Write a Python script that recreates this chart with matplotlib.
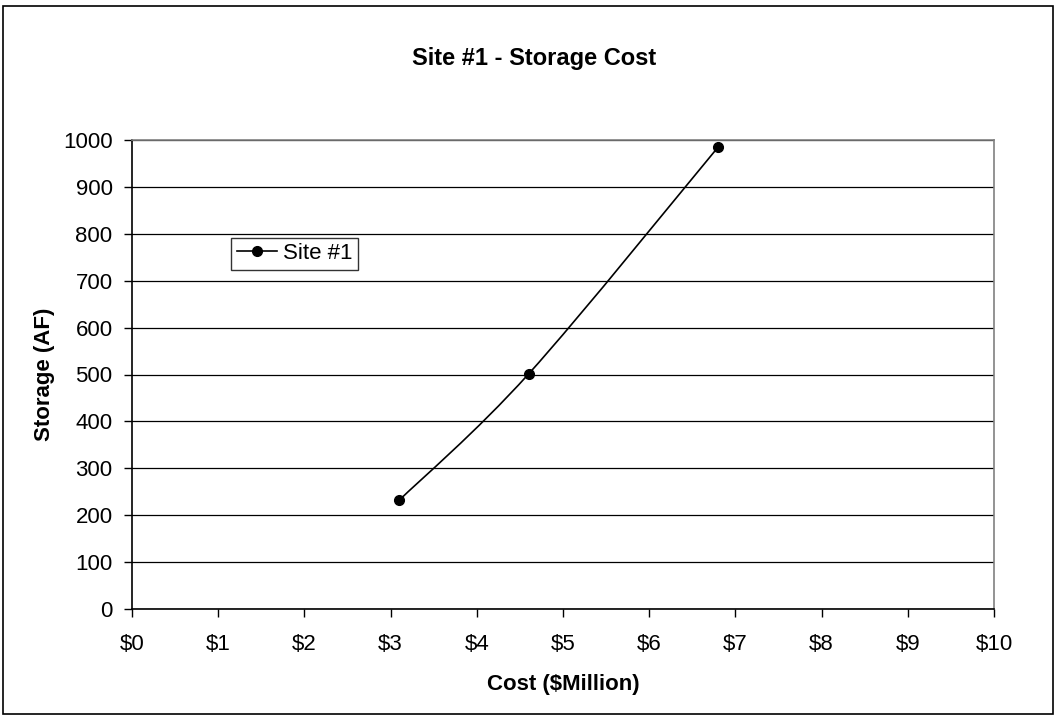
import matplotlib
matplotlib.use("Agg")
import matplotlib.pyplot as plt
from matplotlib.path import Path
from matplotlib.patches import PathPatch, Rectangle
from matplotlib.lines import Line2D
import numpy as np

plt.rcParams['font.family'] = ['Liberation Sans', 'DejaVu Sans']

# Site #1 storage vs. cost
cost_musd = [3.1, 4.6, 6.8]
storage_af = [232, 501, 985]
series_name = "Site #1"

x_ticks = list(range(0, 11))
x_tick_labels = [f"${v}" for v in x_ticks]
y_ticks = list(range(0, 1001, 100))

fig = plt.figure(figsize=(10.57, 7.19), dpi=100)
fig.patch.set_facecolor('white')
fig.patches.append(Rectangle((0.003, 0.007), 0.993, 0.985, transform=fig.transFigure,
                             fill=False, edgecolor='black', linewidth=1.2))

ax = fig.add_axes([132 / 1057, 1 - 609 / 719, (994 - 132) / 1057, (609 - 140) / 719])
ax.set_xlim(0, 10)
ax.set_ylim(0, 1000)

# Smoothed line through the points (cubic Bezier segments, Catmull-Rom style tangents)
pts = np.column_stack([cost_musd, storage_af]).astype(float)
n = len(pts)
verts = [tuple(pts[0])]
codes = [Path.MOVETO]
for i in range(n - 1):
    p0 = pts[i - 1] if i > 0 else pts[i]
    p1 = pts[i]
    p2 = pts[i + 1]
    p3 = pts[i + 2] if i + 2 < n else pts[i + 1]
    c1 = p1 + (p2 - p0) / 6.0
    c2 = p2 - (p3 - p1) / 6.0
    verts += [tuple(c1), tuple(c2), tuple(p2)]
    codes += [Path.CURVE4] * 3
ax.add_patch(PathPatch(Path(verts, codes), facecolor='none', edgecolor='black',
                       linewidth=1.2, zorder=3))
ax.plot(cost_musd, storage_af, linestyle='none', marker='o', markersize=7,
        color='black', zorder=4)

ax.set_xticks(x_ticks)
ax.set_xticklabels(x_tick_labels)
ax.set_yticks(y_ticks)
ax.yaxis.grid(True, color='black', linewidth=0.9)
ax.set_axisbelow(True)
ax.tick_params(axis='both', direction='out', length=6, width=1, color='black',
               labelsize=16)
ax.tick_params(axis='x', pad=12)
ax.tick_params(axis='y', pad=8)

for side in ['left', 'bottom']:
    ax.spines[side].set_color('black')
    ax.spines[side].set_linewidth(1.2)
for side in ['right', 'top']:
    ax.spines[side].set_color('#808080')
    ax.spines[side].set_linewidth(1.2)

ax.set_xlabel("Cost ($Million)", fontsize=16, fontweight='bold', labelpad=14)
ax.set_ylabel("Storage (AF)", fontsize=16, fontweight='bold', labelpad=6)
fig.text(534 / 1057, 1 - 59 / 719, "Site #1 - Storage Cost", fontsize=17,
         fontweight='bold', ha='center', va='center')

handle = Line2D([], [], color='black', marker='o', markersize=7, linewidth=1.2)
leg = ax.legend([handle], [series_name], loc='upper left',
                bbox_to_anchor=(0.115, 0.792), fontsize=16, frameon=True,
                fancybox=False, borderpad=0.25, handlelength=1.8,
                handletextpad=0.3, borderaxespad=0)
leg.get_frame().set_edgecolor('black')
leg.get_frame().set_linewidth(1.0)

fig.savefig("out.png", dpi=100, facecolor='white')
